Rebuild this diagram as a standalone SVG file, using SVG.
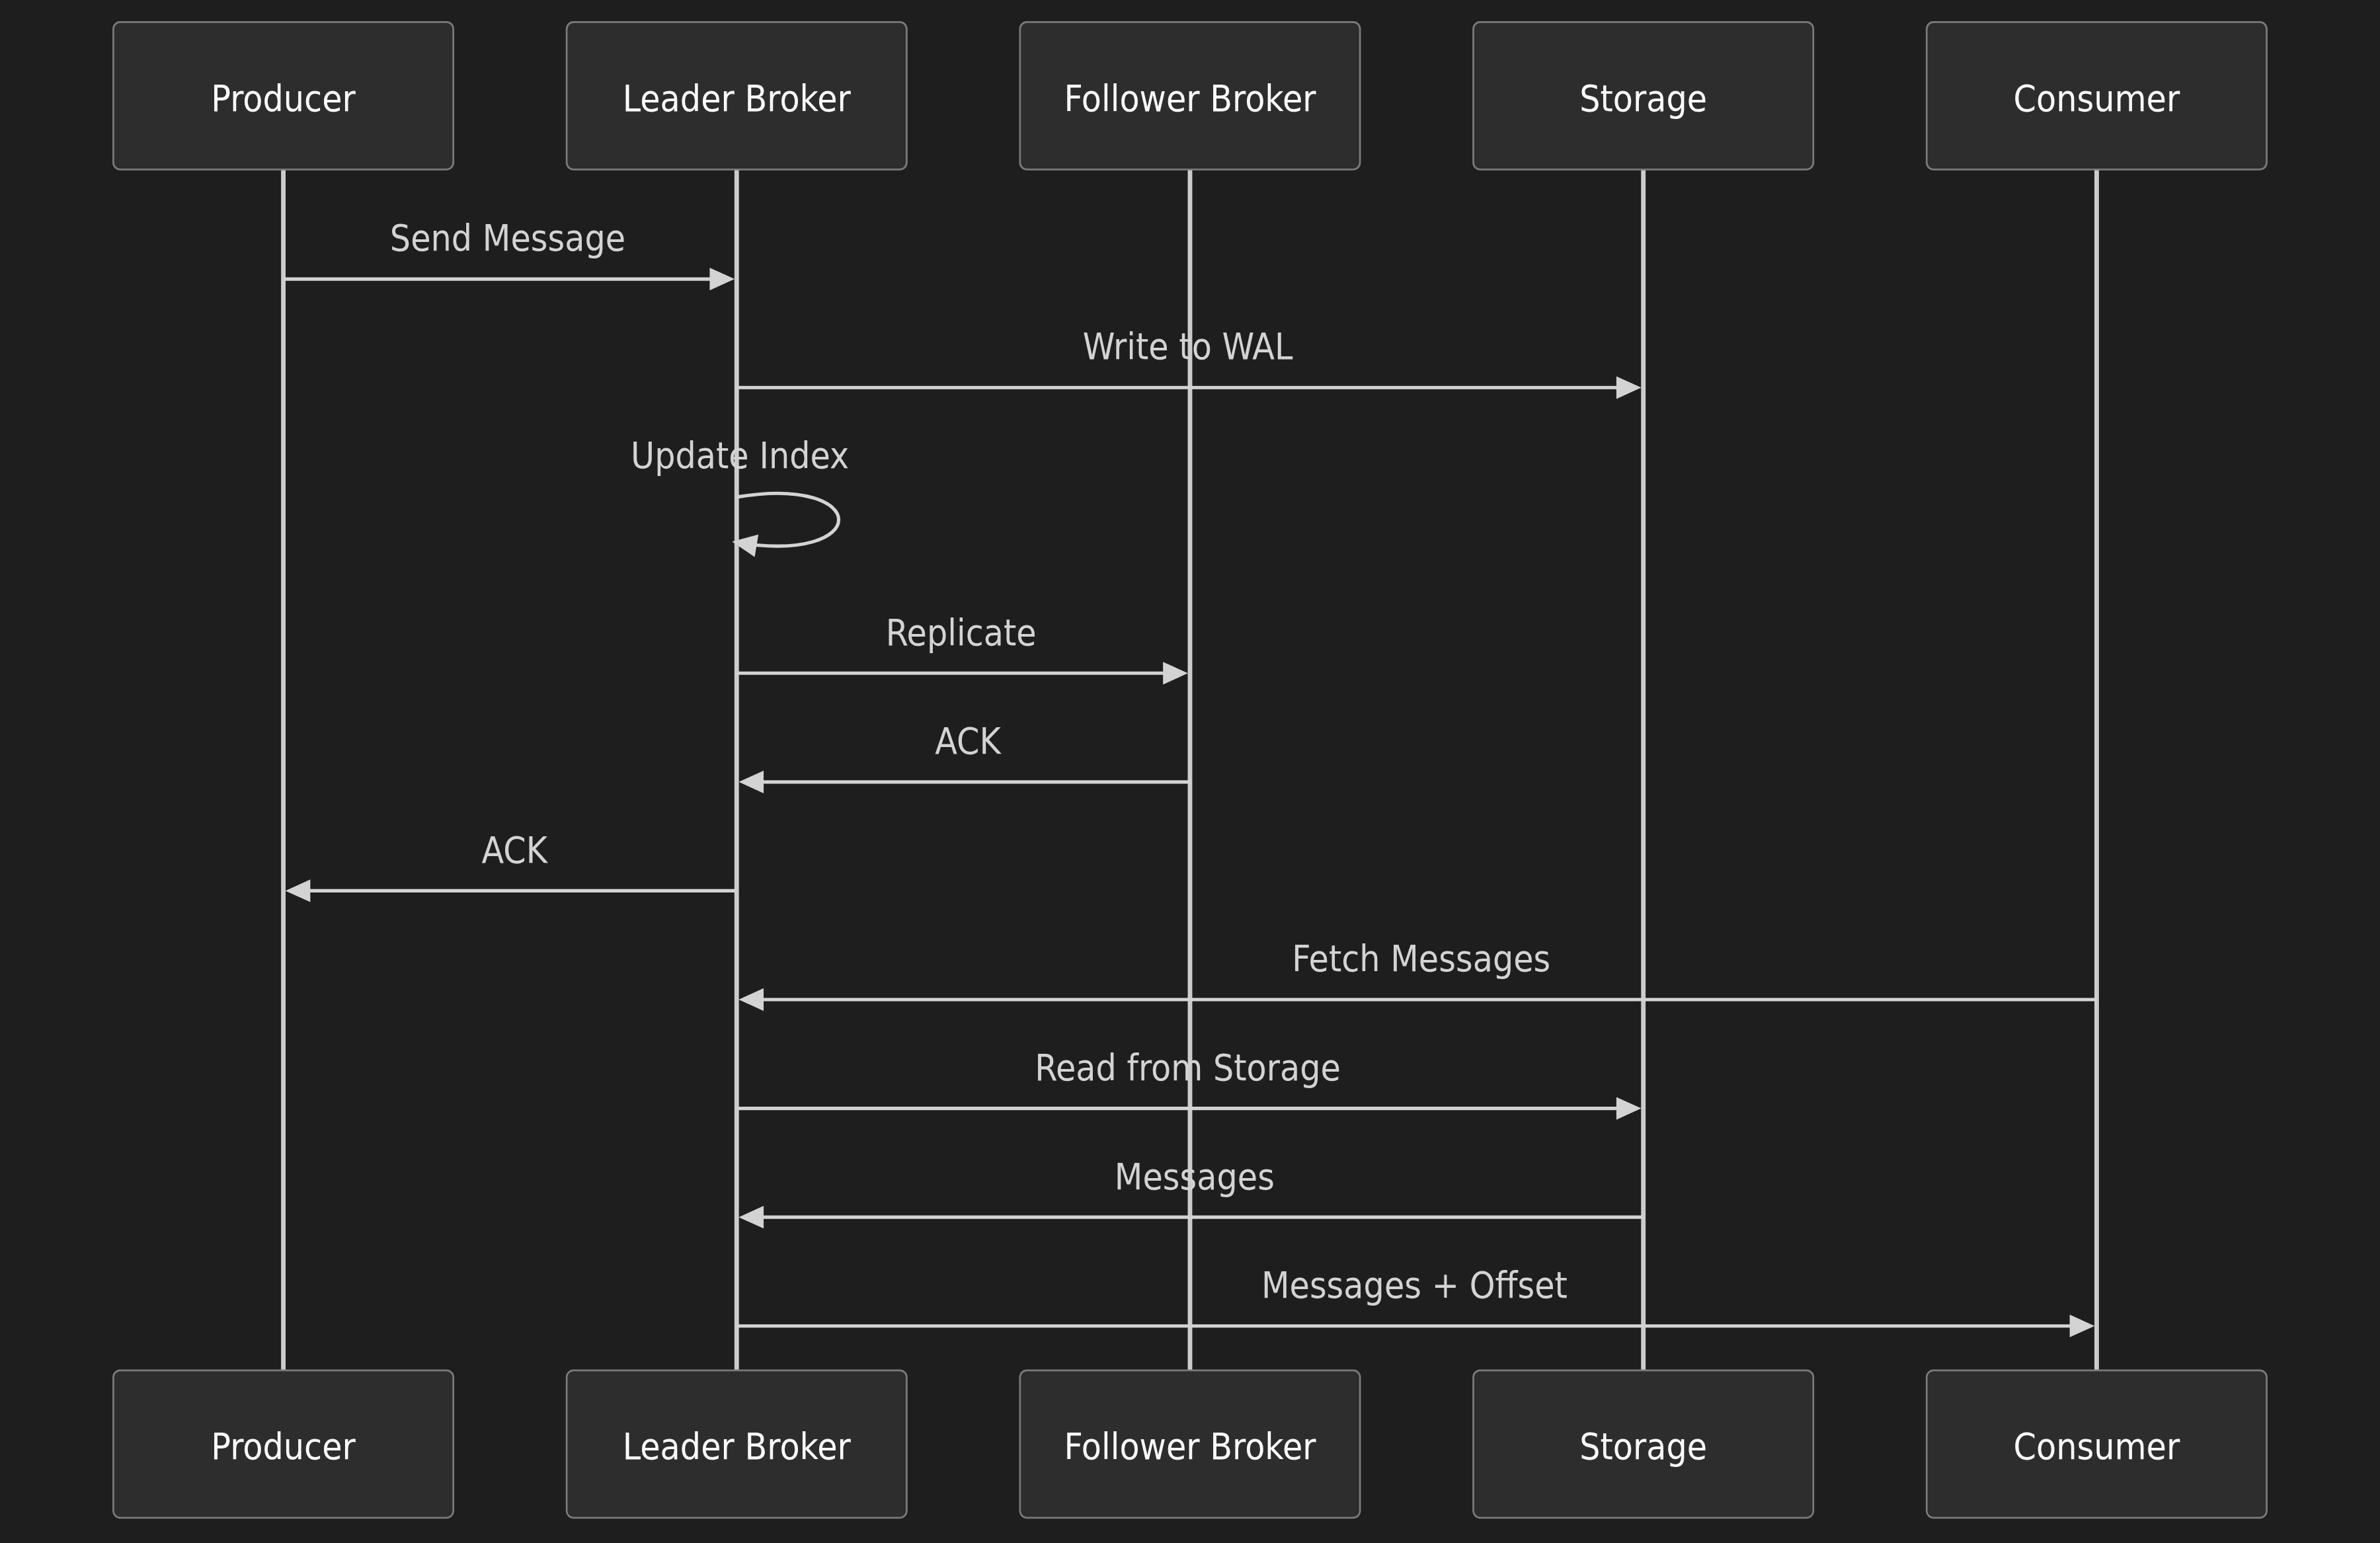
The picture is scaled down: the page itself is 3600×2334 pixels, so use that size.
<svg xmlns="http://www.w3.org/2000/svg" width="3600" height="2334" viewBox="0 0 3600 2334">
<style>
.bg{fill:#1e1e1e}
.actor rect{fill:#2d2d2d;stroke:#7a7a7a;stroke-width:0.8}
.actor text{fill:#fafafa;font-family:"DejaVu Sans Condensed","DejaVu Sans",sans-serif;font-stretch:condensed;font-size:16px;text-anchor:middle}
.life{stroke:#cccccc;stroke-width:2}
.msg{stroke:#d3d3d3;stroke-width:1.5;fill:none;marker-end:url(#arrowhead)}
.lbl{fill:#d3d3d3;font-family:"DejaVu Sans Condensed","DejaVu Sans",sans-serif;font-stretch:condensed;font-size:16px;text-anchor:middle}
</style>
<defs>
<marker id="arrowhead" refX="8.9" refY="5" markerUnits="userSpaceOnUse" markerWidth="12" markerHeight="12" orient="auto" overflow="visible">
<path d="M 0 0 L 11 5 L 0 10 z" fill="#d3d3d3"/>
</marker>
</defs>
<rect class="bg" x="0" y="0" width="3600" height="2334"/>
<g transform="scale(3.428571)">
<g id="lifelines">
<line class="life" x1="125" y1="74.75" x2="125" y2="604.6"/>
<line class="life" x1="325" y1="74.75" x2="325" y2="604.6"/>
<line class="life" x1="525" y1="74.75" x2="525" y2="604.6"/>
<line class="life" x1="725" y1="74.75" x2="725" y2="604.6"/>
<line class="life" x1="925" y1="74.75" x2="925" y2="604.6"/>
</g>
<g id="producer-top" class="actor"><rect x="50" y="9.75" width="150" height="65" rx="3"/><text x="125" y="48.9">Producer</text></g>
<g id="leader-top" class="actor"><rect x="250" y="9.75" width="150" height="65" rx="3"/><text x="325" y="48.9">Leader Broker</text></g>
<g id="follower-top" class="actor"><rect x="450" y="9.75" width="150" height="65" rx="3"/><text x="525" y="48.9">Follower Broker</text></g>
<g id="storage-top" class="actor"><rect x="650" y="9.75" width="150" height="65" rx="3"/><text x="725" y="48.9">Storage</text></g>
<g id="consumer-top" class="actor"><rect x="850" y="9.75" width="150" height="65" rx="3"/><text x="925" y="48.9">Consumer</text></g>
<g id="producer-bottom" class="actor"><rect x="50" y="604.6" width="150" height="65" rx="3"/><text x="125" y="643.75">Producer</text></g>
<g id="leader-bottom" class="actor"><rect x="250" y="604.6" width="150" height="65" rx="3"/><text x="325" y="643.75">Leader Broker</text></g>
<g id="follower-bottom" class="actor"><rect x="450" y="604.6" width="150" height="65" rx="3"/><text x="525" y="643.75">Follower Broker</text></g>
<g id="storage-bottom" class="actor"><rect x="650" y="604.6" width="150" height="65" rx="3"/><text x="725" y="643.75">Storage</text></g>
<g id="consumer-bottom" class="actor"><rect x="850" y="604.6" width="150" height="65" rx="3"/><text x="925" y="643.75">Consumer</text></g>
<g id="connectors">
<text class="lbl" x="224" y="110.6">Send Message</text>
<line class="msg" x1="125" y1="123.1" x2="322" y2="123.1"/>
<text class="lbl" x="524" y="158.5">Write to WAL</text>
<line class="msg" x1="325" y1="171" x2="722" y2="171"/>
<text class="lbl" x="326.4" y="206.5">Update Index</text>
<path class="msg" d="M 325,219.3 C 385,209.3 385,249.3 325,239.3"/>
<text class="lbl" x="424" y="284.6">Replicate</text>
<line class="msg" x1="325" y1="297" x2="522" y2="297"/>
<text class="lbl" x="427" y="332.6">ACK</text>
<line class="msg" x1="525" y1="345" x2="328" y2="345"/>
<text class="lbl" x="227" y="380.6">ACK</text>
<line class="msg" x1="325" y1="393" x2="128" y2="393"/>
<text class="lbl" x="627" y="428.6">Fetch Messages</text>
<line class="msg" x1="925" y1="441" x2="328" y2="441"/>
<text class="lbl" x="524" y="476.6">Read from Storage</text>
<line class="msg" x1="325" y1="489" x2="722" y2="489"/>
<text class="lbl" x="527" y="524.6">Messages</text>
<line class="msg" x1="725" y1="537" x2="328" y2="537"/>
<text class="lbl" x="624" y="572.6">Messages + Offset</text>
<line class="msg" x1="325" y1="585" x2="922" y2="585"/>
</g>
</g>
</svg>
